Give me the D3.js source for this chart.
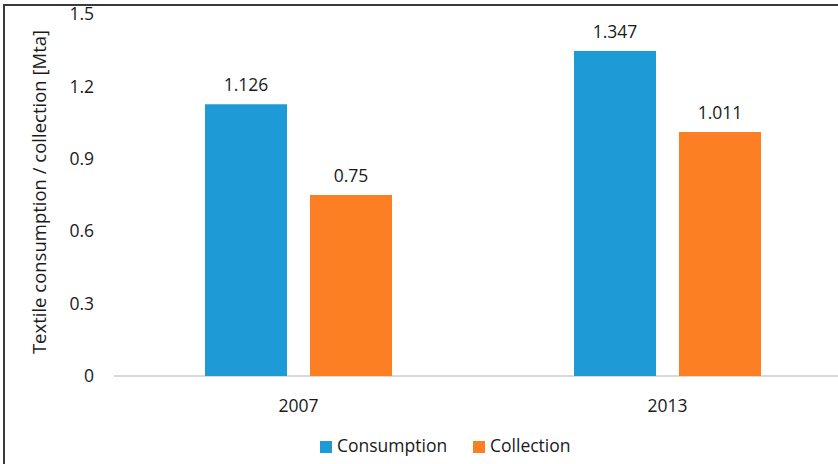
<!DOCTYPE html>
<html>
<head>
<meta charset="utf-8">
<script src="https://cdn.jsdelivr.net/npm/d3@7"></script>
<style>
  html, body { margin: 0; padding: 0; background: #fff; }
  svg { display: block; font-family: "Open Sans", "Liberation Sans", sans-serif; }
</style>
</head>
<body>
<svg id="chart" width="838" height="464"></svg>
<script>
const years = ["2007", "2013"];
const seriesNames = ["Consumption", "Collection"];
const consumption = [1.126, 1.347];
const collection = [0.75, 1.011];
const yTicks = [0, 0.3, 0.6, 0.9, 1.2, 1.5];
const colors = ["#1E9BD7", "#FD7F23"];

const svg = d3.select("#chart");
const W = 838, H = 464;
const FS = 17.5;
const ink = "#1a1a1a";

// plot region (the right side runs past the visible frame)
const plotLeft = 114, plotRight = 852, plotTop = 14, plotBottom = 376;

const x0 = d3.scaleBand().domain(years).range([plotLeft, plotRight]).paddingInner(0).paddingOuter(0);
const groupSpan = x0.bandwidth();
const x1 = d3.scaleBand().domain(seriesNames).range([0, 187]).paddingInner(0.219).paddingOuter(0);
const y = d3.scaleLinear().domain([0, 1.5]).range([plotBottom, plotTop]);

const rows = years.map((yr, i) => ({ year: yr, values: [consumption[i], collection[i]] }));

// frame
svg.append("path")
  .attr("d", `M4,${H} L4,5 L${W},5`)
  .attr("fill", "none").attr("stroke", "#3a3a3a").attr("stroke-width", 2);

// y axis labels
const yAxis = d3.axisLeft(y).tickValues(yTicks).tickSize(0).tickPadding(0)
  .tickFormat(d => d === 0 ? "0" : d3.format(".1f")(d));
const ya = svg.append("g").attr("transform", `translate(${plotLeft - 20},0)`).call(yAxis);
ya.select(".domain").remove();
ya.selectAll("text").attr("font-size", FS).attr("fill", ink)
  .attr("font-family", "Open Sans, sans-serif");

// baseline
svg.append("line")
  .attr("x1", plotLeft).attr("x2", plotRight).attr("y1", y(0)).attr("y2", y(0))
  .attr("stroke", "#d9d9d9").attr("stroke-width", 2);

// bars
const groups = svg.selectAll("g.grp").data(rows).join("g")
  .attr("class", "grp")
  .attr("transform", d => `translate(${x0(d.year) + groupSpan / 2 - 93.5},0)`);

groups.selectAll("rect").data(d => d.values.map((v, j) => ({ v, s: seriesNames[j], j })))
  .join("rect")
  .attr("x", d => x1(d.s))
  .attr("width", x1.bandwidth())
  .attr("y", d => y(d.v))
  .attr("height", d => y(0) - y(d.v))
  .attr("fill", d => colors[d.j]);

groups.selectAll("text.val").data(d => d.values.map((v, j) => ({ v, s: seriesNames[j] })))
  .join("text")
  .attr("class", "val")
  .attr("x", d => x1(d.s) + x1.bandwidth() / 2)
  .attr("y", d => y(d.v) - 13)
  .attr("text-anchor", "middle")
  .attr("font-size", FS).attr("fill", ink)
  .text(d => String(d.v));

// x axis labels
const xAxis = d3.axisBottom(x0).tickSize(0).tickPadding(0);
const xa = svg.append("g").attr("transform", `translate(0,${plotBottom + 24})`).call(xAxis);
xa.select(".domain").remove();
xa.selectAll("text").attr("font-size", FS).attr("fill", ink)
  .attr("font-family", "Open Sans, sans-serif").attr("dy", "0.71em");

// y axis title
svg.append("text")
  .attr("transform", `translate(46,192) rotate(-90)`)
  .attr("text-anchor", "middle")
  .attr("font-size", 18.5).attr("fill", ink)
  .text("Textile consumption / collection [Mta]");

// legend
const legendItems = [{ name: seriesNames[0], x: 320 }, { name: seriesNames[1], x: 473 }];
const lg = svg.append("g").selectAll("g").data(legendItems).join("g")
  .attr("transform", d => `translate(${d.x},441)`);
lg.append("rect").attr("width", 12).attr("height", 12)
  .attr("fill", (d, i) => colors[i]);
lg.append("text").attr("x", 17).attr("y", 5).attr("dy", "0.35em")
  .attr("font-size", FS).attr("fill", ink)
  .text(d => d.name);
</script>
</body>
</html>
